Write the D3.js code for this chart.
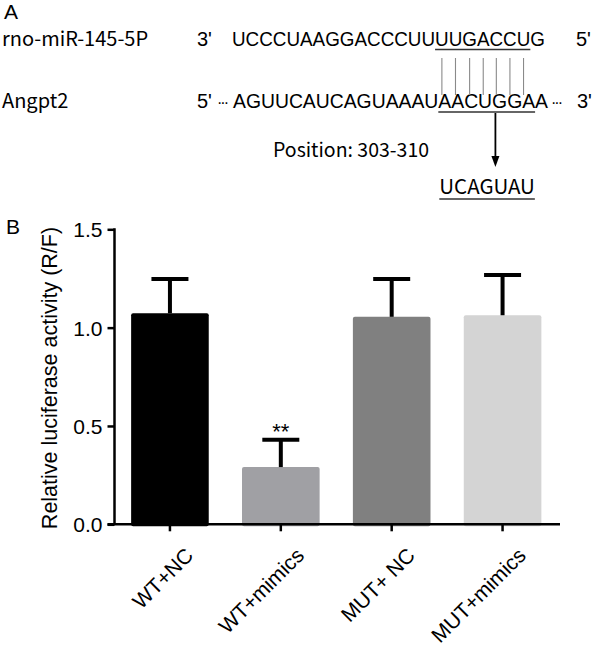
<!DOCTYPE html>
<html>
<head>
<meta charset="utf-8">
<script src="https://cdn.jsdelivr.net/npm/d3@7"></script>
<style>
  html, body { margin: 0; padding: 0; background: #fff; }
  svg { display: block; }
</style>
</head>
<body>
<svg id="chart" width="600" height="654"></svg>
<script>
// ---- Data ----
const categories = ["WT+NC", "WT+mimics", "MUT+ NC", "MUT+mimics"];
const means = [1.073, 0.291, 1.055, 1.063];
const errors = [0.174, 0.139, 0.192, 0.204];
const barColors = ["#000000", "#a0a0a4", "#808080", "#d4d4d4"];
const yTicks = [0.0, 0.5, 1.0, 1.5];
const significance = ["", "**", "", ""];

// Panel A sequence text
const mirName = "rno-miR-145-5P";
const mirSeq = "UCCCUAAGGACCCUUUUGACCUG";
const targetName = "Angpt2";
const targetDots = "\u00B7\u00B7\u00B7";
const targetSeq = "AGUUCAUCAGUAAAUAACUGGAA";
const positionText = "Position: 303-310";
const mutSeq = "UCAGUAU";
const pairCount = 7;

const svg = d3.select("#chart");
const cjk = "'Noto Sans CJK SC', 'Noto Sans', sans-serif";
const arial = "'Liberation Sans', Arial, sans-serif";

// ---- Panel A ----
const A = svg.append("g");
A.append("text").attr("x", 4).attr("y", 19).attr("font-family", arial)
  .attr("font-size", 21).text("A");

const row1 = 46, row2 = 108;
A.append("text").attr("x", 2).attr("y", row1).attr("font-family", cjk)
  .attr("font-size", 20).text(mirName);
A.append("text").attr("x", 2).attr("y", row2).attr("font-family", cjk)
  .attr("font-size", 20).text(targetName);

A.append("text").attr("x", 197).attr("y", row1).attr("font-family", arial)
  .attr("font-size", 20).text("3'");
A.append("text").attr("x", 576).attr("y", row1).attr("font-family", arial)
  .attr("font-size", 20).text("5'");
A.append("text").attr("x", 197).attr("y", row2).attr("font-family", arial)
  .attr("font-size", 20).text("5'");
A.append("text").attr("x", 577).attr("y", row2).attr("font-family", arial)
  .attr("font-size", 20).text("3'");

const t1 = A.append("text").attr("x", 232).attr("y", row1).attr("font-family", arial)
  .attr("font-size", 19.5).attr("textLength", 313).attr("lengthAdjust", "spacingAndGlyphs").text(mirSeq);
A.append("text").attr("x", 217).attr("y", row2).attr("font-family", arial)
  .attr("font-size", 16).attr("textLength", 12).attr("lengthAdjust", "spacing").text(targetDots);
A.append("text").attr("x", 551).attr("y", row2).attr("font-family", arial)
  .attr("font-size", 16).attr("textLength", 12).attr("lengthAdjust", "spacing").text(targetDots);
const t2 = A.append("text").attr("x", 233).attr("y", row2).attr("font-family", arial)
  .attr("font-size", 19.5).attr("textLength", 315).attr("lengthAdjust", "spacingAndGlyphs").text(targetSeq);

function charBox(node, i) {
  const s = node.getStartPositionOfChar(i);
  const e = node.getEndPositionOfChar(i);
  return [s.x, e.x];
}
const n1 = t1.node();
const u1s = charBox(n1, 15)[0], u1e = charBox(n1, 21)[1];
A.append("line").attr("x1", u1s).attr("x2", u1e).attr("y1", row1 + 3.5).attr("y2", row1 + 3.5)
  .attr("stroke", "#333").attr("stroke-width", 1.4);
for (let i = 0; i < pairCount; i++) {
  const b = charBox(n1, 15 + i);
  const cx = (b[0] + b[1]) / 2;
  A.append("line").attr("x1", cx).attr("x2", cx).attr("y1", 58).attr("y2", 95)
    .attr("stroke", "#8a8a8a").attr("stroke-width", 1.1);
}
const n2 = t2.node();
const idx0 = targetSeq.indexOf("AACUGGA");
const u2s = charBox(n2, idx0)[0], u2e = charBox(n2, idx0 + 6)[1];
A.append("line").attr("x1", u2s).attr("x2", u2e).attr("y1", row2 + 4).attr("y2", row2 + 4)
  .attr("stroke", "#333").attr("stroke-width", 1.4);

const ax = u2s + 0.59 * (u2e - u2s);
A.append("line").attr("x1", ax).attr("x2", ax).attr("y1", row2 + 5).attr("y2", 158)
  .attr("stroke", "#000").attr("stroke-width", 1.8);
A.append("path").attr("d", `M${ax - 4},156 L${ax + 4},156 L${ax},167 Z`).attr("fill", "#000");

A.append("text").attr("x", 273).attr("y", 157).attr("font-family", cjk)
  .attr("font-size", 19.5).text(positionText);

const t3 = A.append("text").attr("x", u2s + 1).attr("y", 194).attr("font-family", cjk)
  .attr("font-size", 20.5).text(mutSeq);
const bb3 = t3.node().getBBox();
A.append("line").attr("x1", bb3.x).attr("x2", bb3.x + bb3.width).attr("y1", 199).attr("y2", 199)
  .attr("stroke", "#333").attr("stroke-width", 1.4);

// ---- Panel B ----
svg.append("text").attr("x", 6).attr("y", 234).attr("font-family", arial)
  .attr("font-size", 21).text("B");

const x0 = 114.5, x1 = 558, yTop = 229.3, yBot = 524.3;
const x = d3.scaleBand().domain(categories).range([x0, x1])
  .paddingInner(0.3).paddingOuter(0.15);
const y = d3.scaleLinear().domain([0, 1.5]).range([yBot, yTop]);

const B = svg.append("g");

B.selectAll("rect.bar").data(categories).enter().append("rect")
  .attr("class", "bar")
  .attr("x", d => x(d))
  .attr("y", (d, i) => y(means[i]))
  .attr("width", x.bandwidth())
  .attr("height", (d, i) => yBot - y(means[i]) + 2)
  .attr("rx", 2)
  .attr("fill", (d, i) => barColors[i]);

const capW = 37;
B.selectAll("line.err").data(categories).enter().append("line")
  .attr("x1", d => x(d) + x.bandwidth() / 2)
  .attr("x2", d => x(d) + x.bandwidth() / 2)
  .attr("y1", (d, i) => y(means[i]))
  .attr("y2", (d, i) => y(means[i] + errors[i]))
  .attr("stroke", "#000").attr("stroke-width", 4);
B.selectAll("line.cap").data(categories).enter().append("line")
  .attr("x1", d => x(d) + x.bandwidth() / 2 - capW / 2)
  .attr("x2", d => x(d) + x.bandwidth() / 2 + capW / 2)
  .attr("y1", (d, i) => y(means[i] + errors[i]))
  .attr("y2", (d, i) => y(means[i] + errors[i]))
  .attr("stroke", "#000").attr("stroke-width", 4);

B.selectAll("text.sig").data(categories).enter().append("text")
  .attr("x", d => x(d) + x.bandwidth() / 2)
  .attr("y", (d, i) => y(means[i] + errors[i]) - 1)
  .attr("text-anchor", "middle")
  .attr("font-family", arial).attr("font-size", 22)
  .text((d, i) => significance[i]);

// y axis
const yAxis = d3.axisLeft(y).tickValues(yTicks).tickFormat(d3.format(".1f"))
  .tickSizeInner(7).tickSizeOuter(0).tickPadding(5);
const gy = B.append("g").attr("transform", `translate(${x0},0)`).call(yAxis);
gy.select(".domain").attr("stroke", "#000").attr("stroke-width", 2.5)
  .attr("d", `M0,${yTop - 1}V${yBot}`);
gy.selectAll(".tick line").attr("stroke", "#000").attr("stroke-width", 2.5);
gy.selectAll(".tick text").attr("font-family", arial).attr("font-size", 21).attr("fill", "#000")
  .attr("dy", "0.36em");

// x axis
const xAxis = d3.axisBottom(x).tickSizeInner(7).tickSizeOuter(0).tickPadding(6);
const gx = B.append("g").attr("transform", `translate(0,${yBot})`).call(xAxis);
gx.select(".domain").attr("stroke", "#000").attr("stroke-width", 2.5)
  .attr("d", `M${x0 - 7},0H${x1 + 2}`);
gx.selectAll(".tick line").attr("stroke", "#000").attr("stroke-width", 2.5);
gx.selectAll(".tick text").attr("font-family", arial).attr("font-size", 21).attr("fill", "#000")
  .attr("text-anchor", "end")
  .attr("dy", "0.7em")
  .attr("transform", "translate(5,13) rotate(-45)");

// y label
svg.append("text")
  .attr("transform", `translate(57,${378}) rotate(-90)`)
  .attr("text-anchor", "middle")
  .attr("font-family", arial).attr("font-size", 21.5)
  .text("Relative luciferase activity (R/F)");
</script>
</body>
</html>
